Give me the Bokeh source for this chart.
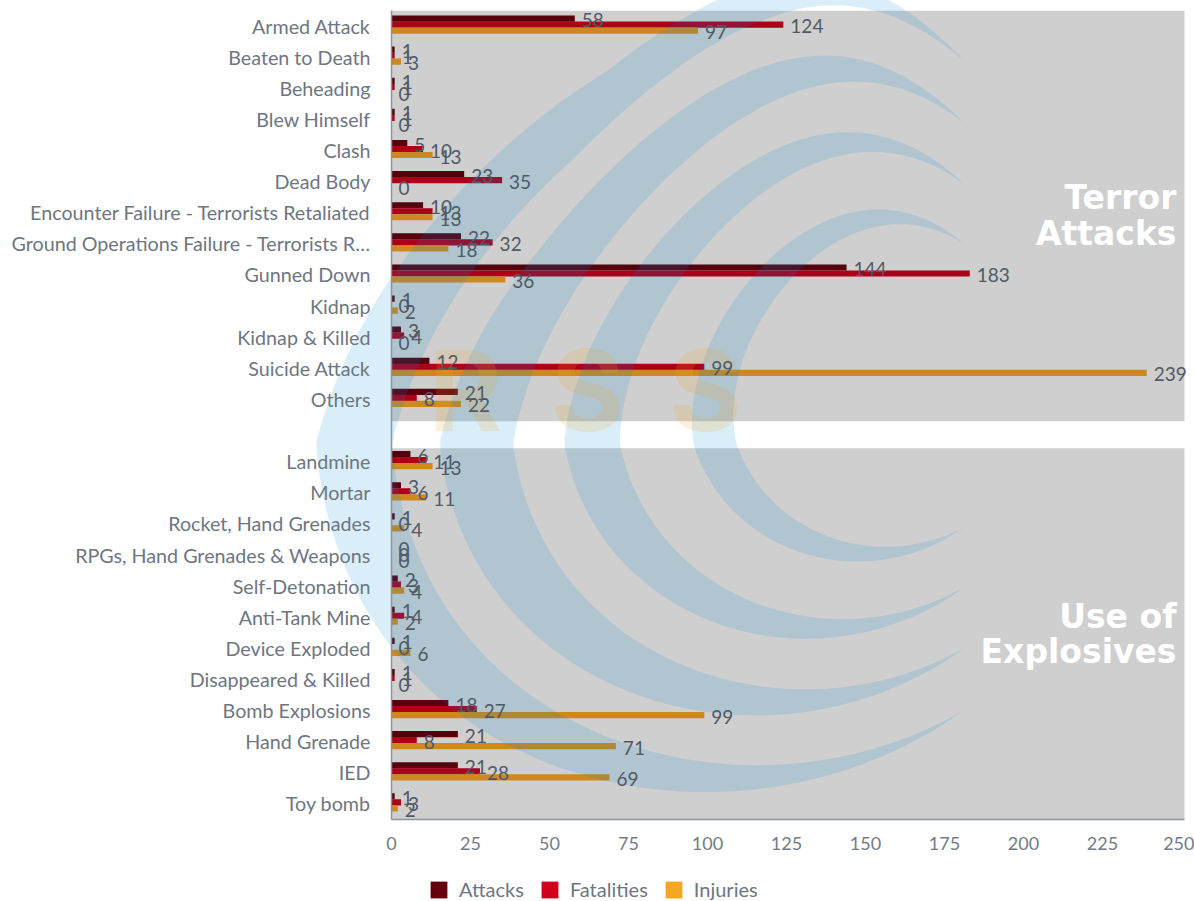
import math
from urllib.parse import quote
from bokeh.plotting import figure
from bokeh.layouts import column
from bokeh.models import Range1d, FixedTicker, Legend, LegendItem, ColumnDataSource
from bokeh.embed import file_html
from bokeh.resources import INLINE
from bokeh.core.properties import value

# ---------------- data ----------------
terror_categories = [
    "Armed Attack", "Beaten to Death", "Beheading", "Blew Himself", "Clash",
    "Dead Body", "Encounter Failure - Terrorists Retaliated",
    "Ground Operations Failure - Terrorists R\u2026", "Gunned Down", "Kidnap",
    "Kidnap & Killed", "Suicide Attack", "Others",
]
terror_attacks = [58, 1, 1, 1, 5, 23, 10, 22, 144, 1, 3, 12, 21]
terror_fatalities = [124, 1, 1, 1, 10, 35, 13, 32, 183, 0, 4, 99, 8]
terror_injuries = [97, 3, 0, 0, 13, 0, 13, 18, 36, 2, 0, 239, 22]

explosive_categories = [
    "Landmine", "Mortar", "Rocket, Hand Grenades", "RPGs, Hand Grenades & Weapons",
    "Self-Detonation", "Anti-Tank Mine", "Device Exploded", "Disappeared & Killed",
    "Bomb Explosions", "Hand Grenade", "IED", "Toy bomb",
]
explosive_attacks = [6, 3, 1, 0, 2, 1, 1, 1, 18, 21, 21, 1]
explosive_fatalities = [11, 6, 0, 0, 3, 4, 0, 1, 27, 8, 28, 3]
explosive_injuries = [13, 11, 4, 0, 4, 2, 6, 0, 99, 71, 69, 2]

series_names = ["Attacks", "Fatalities", "Injuries"]
x_ticks = [0, 25, 50, 75, 100, 125, 150, 175, 200, 225, 250]
section_titles = [["Terror", "Attacks"], ["Use of", "Explosives"]]
watermark_letters = ["C", "R", "S", "S"]

# ---------------- style ----------------
bar_colors = ["#55000c", "#ab0018", "#cf881f"]
legend_colors = ["#65000f", "#d0021b", "#f5a623"]
label_color = "#6e7680"
value_color = "#4f5a65"
axis_color = "#8d949b"
panel_gray = "#cfcfcf"

W, H, LEG_H = 1194, 870, 31
LEFT, TOP, BOTTOM = 391, 10, 51
PX_PER_UNIT = 3.16
frame_w = W - LEFT
frame_h = H - TOP - BOTTOM
n_rows = len(terror_categories) + 1 + len(explosive_categories)
row_px = frame_h / n_rows
x_end = frame_w / PX_PER_UNIT


def px_x(px):  # canvas px -> data x
    return (px - LEFT) / PX_PER_UNIT


def px_y(py):  # canvas px -> data y (row units)
    return (py - TOP) / row_px - 0.5


p = figure(width=W, height=H, output_backend="svg", toolbar_location=None,
           x_range=Range1d(0, x_end), y_range=Range1d(n_rows - 0.5, -0.5),
           min_border_left=LEFT, min_border_right=0, min_border_top=TOP,
           min_border_bottom=BOTTOM)
p.outline_line_color = None
p.grid.visible = False
p.background_fill_color = "white"
p.border_fill_alpha = 0

# rows
terror_rows = list(range(len(terror_categories)))
gap_row = len(terror_categories)
expl_rows = list(range(gap_row + 1, gap_row + 1 + len(explosive_categories)))
all_rows = terror_rows + expl_rows
all_cats = terror_categories + explosive_categories
series = [terror_attacks + explosive_attacks,
          terror_fatalities + explosive_fatalities,
          terror_injuries + explosive_injuries]

# gray section panels
x_right = px_x(1184)
p.quad(left=[0, 0], right=[x_right, x_right],
       top=[-0.5, gap_row + 0.57], bottom=[gap_row - 0.3, n_rows - 0.5],
       fill_color=panel_gray, line_color=None)

offsets = [-7.5 / row_px, -1.5 / row_px, 4.5 / row_px]
bar_h = 6.2 / row_px

for vals, col, off in zip(series, bar_colors, offsets):
    src = ColumnDataSource(dict(y=[r + off for r in all_rows], right=vals))
    p.hbar(y="y", right="right", left=0, height=bar_h, source=src,
           fill_color=col, line_color=None)

# watermark crescents (decoration, geometry in canvas pixels)
cy = 385
tip_x = 963
crescents = [(325, 312, 75), (263, 434, 73), (202, 557, 55), (142, 683, 42)]


def warp(a, b):
    # lean the upper arms of the logo to the right, slightly the lower to the left
    k = 0.39 if b < 443 else 0.08
    w = min(1.0, max(0.0, (tip_x - a) / 500.0))
    return a + (443 - b) * k * w, b


wx, wy, svg_polys = [], [], []
for h, L, t in crescents:
    cxo = (tip_x ** 2 + h ** 2 - L ** 2) / (2 * (tip_x - L))
    ro = cxo - L
    Li = L + t
    cxi = (tip_x ** 2 + h ** 2 - Li ** 2) / (2 * (tip_x - Li))
    ri = cxi - Li
    a0 = math.atan2(h, tip_x - cxo)
    b0 = math.atan2(h, tip_x - cxi)
    pts = []
    n = 160
    for k in range(n + 1):
        th = a0 + (2 * math.pi - 2 * a0) * k / n
        pts.append(warp(cxo + ro * math.cos(th), cy + ro * math.sin(th)))
    for k in range(n + 1):
        th = (2 * math.pi - b0) - (2 * math.pi - 2 * b0) * k / n
        pts.append(warp(cxi + ri * math.cos(th), cy + ri * math.sin(th)))
    wx.append([px_x(a) for a, _ in pts])
    wy.append([px_y(b) for _, b in pts])
    svg_polys.append(" ".join(f"{a:.1f},{b:.1f}" for a, b in pts))
p.patches(wx, wy, fill_color="#008dd7", fill_alpha=0.15, line_color=None)

# same watermark behind the transparent border area (outside the frame)
svg = (f'<svg xmlns="http://www.w3.org/2000/svg" width="{W}" height="{H}">'
       + "".join(f'<polygon points="{s}" fill="#008dd7" fill-opacity="0.15"/>'
                 for s in svg_polys)
       + "</svg>")
p.styles = {"background-image": f'url("data:image/svg+xml;charset=utf-8,{quote(svg)}")',
            "background-repeat": "no-repeat",
            "background-size": f"{W}px {H}px",
            "background-color": "white"}

letter_px = [351, 465, 587, 705]
p.text(x=[px_x(v) for v in letter_px], y=[px_y(389)] * 4, text=watermark_letters,
       text_font=value("Inter"), text_font_style="bold", text_font_size="112px",
       text_color="#f5a623", text_alpha=0.17, text_align="center",
       text_baseline="middle")

# value labels
for vals, off in zip(series, offsets):
    src = ColumnDataSource(dict(x=vals, y=[r + off for r in all_rows],
                                t=[str(v) for v in vals]))
    p.text(x="x", y="y", text="t", source=src, x_offset=7, y_offset=1.5,
           text_font=value("Lato"), text_font_size="19px", text_color=value_color,
           text_align="left", text_baseline="middle")

# section titles
title_px = [[196.5, 232.5], [615.5, 650.5]]
for lines, ys in zip(section_titles, title_px):
    p.text(x=[px_x(1176)] * 2, y=[px_y(v) for v in ys], text=lines,
           text_font=value("DejaVu Sans"), text_font_style="bold",
           text_font_size="33px", text_color="white", text_align="right",
           text_baseline="middle")

# axes
p.xaxis.ticker = FixedTicker(ticks=x_ticks)
p.xaxis.bounds = (0, x_right)
p.xaxis.axis_line_color = axis_color
p.xaxis.axis_line_width = 1.5
p.xaxis.major_tick_out = 0
p.xaxis.major_tick_in = 0
p.xaxis.minor_tick_out = 0
p.xaxis.minor_tick_in = 0
p.xaxis.major_label_standoff = 17
p.xaxis.major_label_text_font = "Lato"
p.xaxis.major_label_text_font_size = "18px"
p.xaxis.major_label_text_color = "#737b85"

p.yaxis.ticker = FixedTicker(ticks=all_rows)
p.yaxis.major_label_overrides = {r: c for r, c in zip(all_rows, all_cats)}
p.yaxis.axis_line_color = axis_color
p.yaxis.axis_line_width = 1.5
p.yaxis.major_tick_out = 0
p.yaxis.major_tick_in = 0
p.yaxis.minor_tick_out = 0
p.yaxis.minor_tick_in = 0
p.yaxis.major_label_standoff = 21
p.yaxis.major_label_text_font = "Lato"
p.yaxis.major_label_text_font_size = "19.7px"
p.yaxis.major_label_text_color = label_color

# legend strip (separate small figure below the chart; its frame is aligned
# with the main chart's frame by the column layout)
lg = figure(width=W, height=LEG_H, output_backend="svg", toolbar_location=None,
            x_axis_type=None, y_axis_type=None, min_border=0,
            x_range=Range1d(0, 1), y_range=Range1d(0, 1))
lg.outline_line_color = None
lg.grid.visible = False
lg.background_fill_color = "white"
lg.border_fill_color = "white"
items = []
for name, col in zip(series_names, legend_colors):
    # one off-screen dummy bar per series, only so the legend gets a swatch
    r = lg.hbar(y=[-5], right=[0.5], left=0, height=0.2, fill_color=col,
                line_color=None)
    items.append(LegendItem(label=name, renderers=[r]))
legend = Legend(items=items, orientation="horizontal", location=(37, 0),
                glyph_width=21, glyph_height=21, label_standoff=10, spacing=15,
                padding=0, margin=0, border_line_color=None,
                background_fill_alpha=0, label_text_font="Lato",
                label_text_font_size="20px", label_text_color=label_color)
lg.add_layout(legend)

layout = column(p, lg, spacing=0)
open("out.html", "w").write(file_html(layout, INLINE))
